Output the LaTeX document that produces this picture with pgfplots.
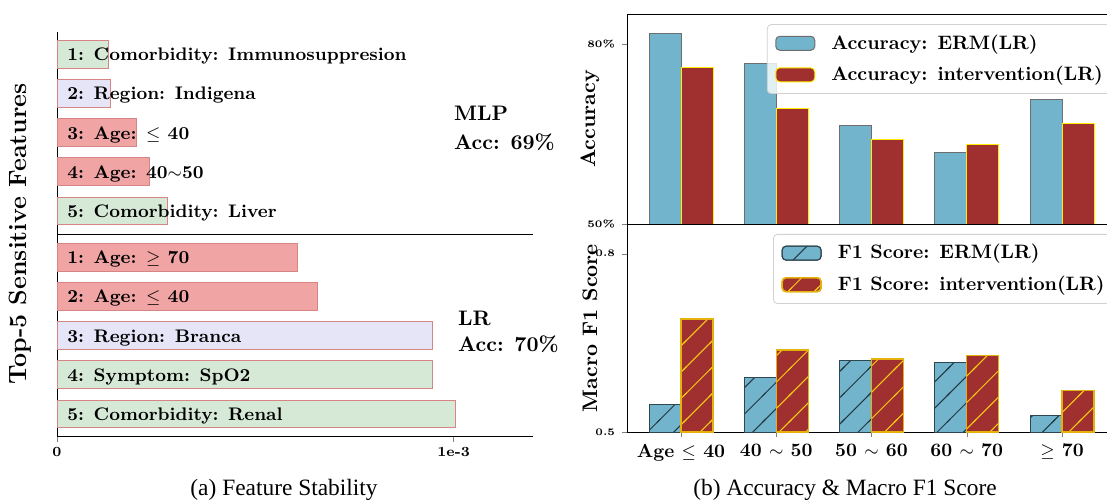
\documentclass[border=0pt]{standalone}
\usepackage{fontspec}
\newfontfamily\capfont{Liberation Serif}
\usepackage{pgfplots}
\usepackage{pgfplotstable}
\pgfplotsset{compat=1.18}
\usetikzlibrary{patterns.meta}

\definecolor{pinkbar}{RGB}{240,164,164}
\definecolor{lavbar}{RGB}{230,228,247}
\definecolor{greenbar}{RGB}{214,232,214}
\definecolor{baredge}{RGB}{214,132,132}
\definecolor{ermfill}{RGB}{114,180,204}
\definecolor{intfill}{RGB}{160,48,48}
\definecolor{ermedge}{RGB}{110,110,110}
\definecolor{intedge}{RGB}{255,238,0}
\definecolor{ermedgeb}{RGB}{45,70,80}
\definecolor{intedgeb}{RGB}{228,178,10}
\definecolor{ermhatch}{RGB}{35,55,65}
\definecolor{inthatch}{RGB}{245,205,20}

\tikzdeclarepattern{
  name=sparsediag,
  type=uncolored,
  bottom left={(-1pt,-1pt)},
  top right={(14.17pt,14.17pt)},
  tile size={(13.17pt,13.17pt)},
  code={\draw[line width=0.5pt] (-1pt,-1pt) -- (14.17pt,14.17pt);}
}

% feature labels, x in units of 1e-3
\pgfplotstableread[col sep=comma]{
x,y,label
0,10.18,1: Comorbidity: Immunosuppresion
0,9.18,2: Region: Indigena
0,8.18,3: Age: $\leq$ 40
0,7.18,4: Age: 40$\sim$50
0,6.18,5: Comorbidity: Liver
0,5,1: Age: $\geq$ 70
0,4,2: Age: $\leq$ 40
0,3,3: Region: Branca
0,2,4: Symptom: SpO2
0,1,5: Comorbidity: Renal
}\featlabels

\pgfplotsset{
  ticklbl/.style={font=\fontsize{5}{6}\selectfont\bfseries},
  ylab/.style={every axis y label/.style={at={(rel axis cs:0,0.5)}, xshift=-18.5pt,
      rotate=90, anchor=center, font=\fontsize{10.5}{12}\selectfont\bfseries}},
  boxleg/.style={legend image code/.code={\draw[##1, fill opacity=1, draw opacity=1]
      (0pt,-3.5pt) rectangle (19.5pt,3.5pt);}},
  legbox/.style={legend cell align=left,
    legend style={at={#1}, anchor=north west, draw=black!18, fill=white,
      fill opacity=0.8, text opacity=1, rounded corners=2pt,
      font=\fontsize{9.7}{11}\selectfont\bfseries, inner xsep=4pt, inner ysep=3pt, row sep=3pt,
      /tikz/every odd column/.append style={column sep=6pt}}},
}

\begin{document}
\begin{tikzpicture}
\useasboundingbox (0,0) rectangle (553.5pt,250pt);
\clip (0,0) rectangle (553.5pt,250pt);

% (a) feature stability
\begin{axis}[
  at={(28.5pt,32pt)}, anchor=south west, scale only axis,
  width=238pt, height=202pt,
  xmin=0, xmax=1.2, ymin=0.44, ymax=10.745,
  axis x line*=bottom, axis y line*=left, axis line style={-, line width=0.5pt},
  xtick={0,1}, xticklabels={0,1e-3}, ytick=\empty,
  tick align=outside, major tick length=3pt,
  xticklabel style={font=\fontsize{7}{8}\selectfont\bfseries, yshift=1pt},
  ylabel={Top-5 Sensitive Features},
  every axis y label/.style={at={(rel axis cs:0,0.5)}, xshift=-18.5pt,
      rotate=90, anchor=center, font=\fontsize{12.5}{14}\selectfont\bfseries},
  clip=false,
]
\addplot[xbar, bar width=0.707, bar shift=0pt, fill=pinkbar, draw=baredge, line width=0.5pt]
  coordinates {(0.200,8.18) (0.232,7.18) (0.606,5) (0.657,4)};
\addplot[xbar, bar width=0.707, bar shift=0pt, fill=lavbar, draw=baredge, line width=0.5pt]
  coordinates {(0.134,9.18) (0.947,3)};
\addplot[xbar, bar width=0.707, bar shift=0pt, fill=greenbar, draw=baredge, line width=0.5pt]
  coordinates {(0.129,10.18) (0.278,6.18) (0.947,2) (1.005,1)};
\addplot[draw=none, mark=none, nodes near coords, point meta=explicit symbolic,
  nodes near coords style={anchor=west, inner sep=0pt, xshift=5pt, yshift=-1pt,
    font=\fontsize{9.1}{11}\selectfont\bfseries}]
  table[x=x, y=y, meta=label] {\featlabels};
\addplot[black, line width=0.5pt, mark=none] coordinates {(0,5.59) (1.2,5.59)};
\node[anchor=west, inner sep=0pt, font=\fontsize{10.5}{12}\selectfont\bfseries] at (axis cs:1.0,8.68) {MLP};
\node[anchor=west, inner sep=0pt, font=\fontsize{10.5}{12}\selectfont\bfseries] at (axis cs:1.0,7.94) {Acc: 69\%};
\node[anchor=west, inner sep=0pt, font=\fontsize{10.5}{12}\selectfont\bfseries] at (axis cs:1.01,3.45) {LR};
\node[anchor=west, inner sep=0pt, font=\fontsize{10.5}{12}\selectfont\bfseries] at (axis cs:1.01,2.79) {Acc: 70\%};
\end{axis}

% (b) top: accuracy
\begin{axis}[
  at={(313.5pt,138pt)}, anchor=south west, scale only axis,
  width=244.5pt, height=105pt,
  xmin=-0.567, xmax=4.567, ymin=50, ymax=85,
  axis line style={line width=0.5pt},
  xtick=\empty, ytick={50,80}, yticklabels={50\%,80\%},
  tick pos=left, tick align=outside, major tick length=2.5pt,
  yticklabel style={ticklbl},
  ylabel={Accuracy}, ylab,
  legbox={(0.286,0.952)},
]
\addplot[ybar, bar width=0.336, bar shift=-0.168, fill=ermfill, draw=ermedge, line width=0.5pt, boxleg]
  coordinates {(0,81.7) (1,76.7) (2,66.5) (3,61.9) (4,70.7)};
\addlegendentry{Accuracy: ERM(LR)}
\addplot[ybar, bar width=0.336, bar shift=0.168, fill=intfill, draw=intedge, line width=0.5pt, boxleg]
  coordinates {(0,76.1) (1,69.3) (2,64.1) (3,63.3) (4,66.7)};
\addlegendentry{Accuracy: intervention(LR)}
\end{axis}

% (b) bottom: macro F1
\begin{axis}[
  at={(313.5pt,34pt)}, anchor=south west, scale only axis,
  width=244.5pt, height=104pt,
  xmin=-0.567, xmax=4.567, ymin=0.5, ymax=0.85,
  axis line style={line width=0.5pt},
  xtick={0,1,2,3,4},
  xticklabels={Age $\leq$ 40, 40 $\sim$ 50, 50 $\sim$ 60, 60 $\sim$ 70, $\geq$ 70},
  xticklabel style={font=\fontsize{9.5}{11}\selectfont\bfseries},
  ytick={0.5,0.8}, yticklabels={0.5,0.8},
  tick pos=left, tick align=outside, major tick length=2.5pt,
  yticklabel style={ticklbl},
  ylabel={Macro F1 Score}, ylab,
  legbox={(0.2986,0.952)},
]
\addplot[ybar, bar width=0.336, bar shift=-0.168, fill=ermfill, draw=ermedgeb, line width=0.5pt,
  postaction={pattern=sparsediag, pattern color=ermhatch}, boxleg]
  coordinates {(0,0.546) (1,0.592) (2,0.620) (3,0.617) (4,0.527)};
\addlegendentry{F1 Score: ERM(LR)}
\addplot[ybar, bar width=0.336, bar shift=0.168, fill=intfill, draw=intedgeb, line width=0.7pt,
  postaction={pattern=sparsediag, pattern color=inthatch}, boxleg]
  coordinates {(0,0.690) (1,0.638) (2,0.623) (3,0.629) (4,0.570)};
\addlegendentry{F1 Score: intervention(LR)}
\end{axis}

\node[font=\capfont\fontsize{11.7}{14}\selectfont] at (142pt,5pt) {(a) Feature Stability};
\node[font=\capfont\fontsize{11.7}{14}\selectfont] at (422.5pt,5pt) {(b) Accuracy \& Macro F1 Score};
\end{tikzpicture}
\end{document}
